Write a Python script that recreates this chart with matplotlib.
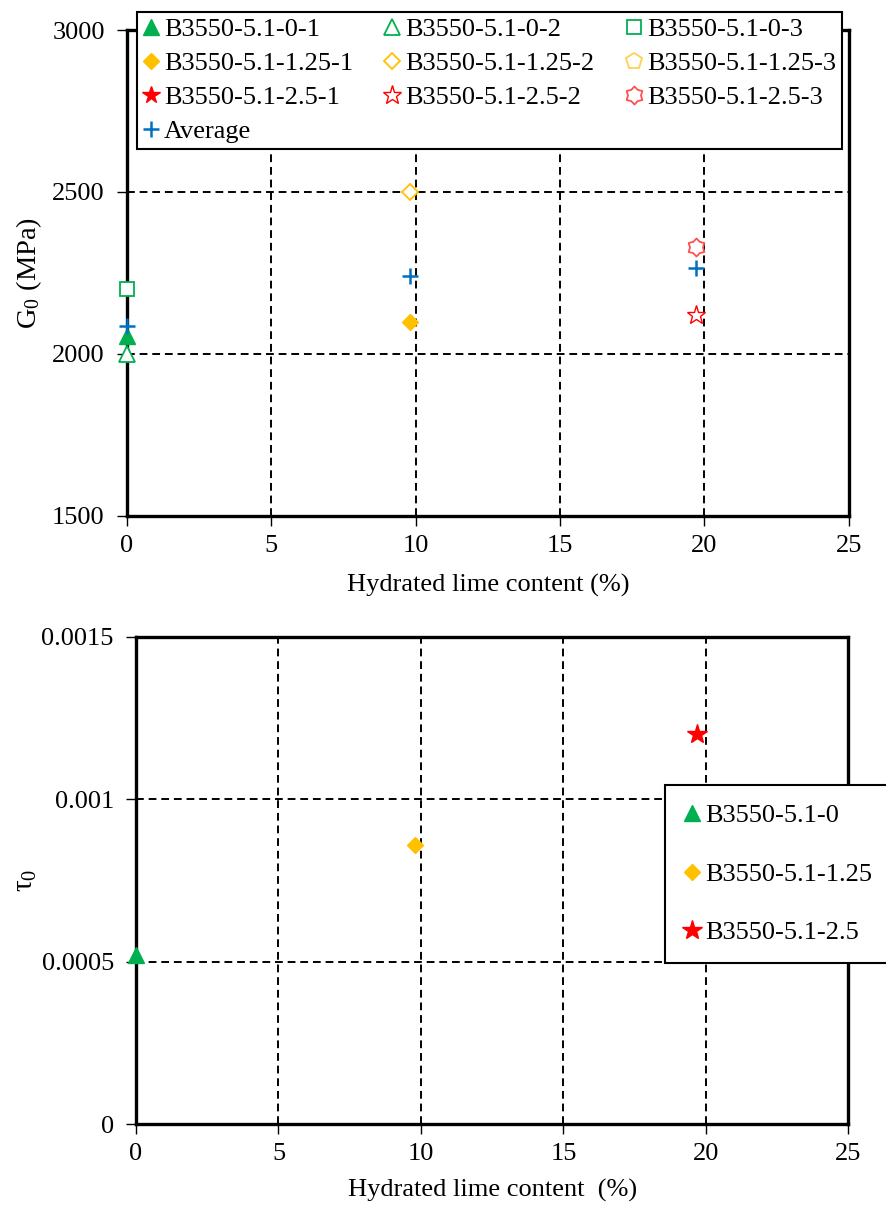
import numpy as np
import matplotlib
matplotlib.use('Agg')
import matplotlib.pyplot as plt
from matplotlib.path import Path

plt.rcParams['font.family'] = ['Liberation Serif', 'DejaVu Serif']
plt.rcParams['mathtext.fontset'] = 'stix'
plt.rcParams['mathtext.default'] = 'regular'

# data
lime = [0, 9.8, 19.7]
g0_0 = [2055, 2000, 2200]          # B3550-5.1-0-1/2/3
g0_125 = [2100, 2500, np.nan]      # B3550-5.1-1.25-1/2/3
g0_25 = [np.nan, 2120, 2330]       # B3550-5.1-2.5-1/2/3
g0_avg = [2085, 2240, 2265]
tau0 = [0.00052, 0.00086, 0.0012]

x_ticks = [0, 5, 10, 15, 20, 25]
g0_ticks = [1500, 2000, 2500, 3000]
tau_ticks = [0, 0.0005, 0.001, 0.0015]
tau_labels = ['0', '0.0005', '0.001', '0.0015']

green = '#00B050'
orange = '#FFC000'
red = '#FF0000'
blue = '#0070C0'
fs = 19

# shallow six-point "gear" star used for 2.5-3
ang = np.pi / 2 + np.arange(12) * np.pi / 6
rad = np.where(np.arange(12) % 2 == 0, 1.0, 0.72)
verts = np.column_stack([rad * np.cos(ang), rad * np.sin(ang)])
gear = Path(np.vstack([verts, verts[:1]]), closed=True)

fig = plt.figure(figsize=(8.86, 12.05), dpi=100)
ax1 = fig.add_axes([0.1433, 0.5718, 0.8147, 0.4033])
ax2 = fig.add_axes([0.1535, 0.0672, 0.8040, 0.4042])

def style(ax):
    for s in ax.spines.values():
        s.set_linewidth(2.4)
        s.set_color('black')
    ax.grid(True, color='black', linestyle=(0, (4, 2.5)), linewidth=1.4)
    ax.set_axisbelow(True)
    ax.tick_params(labelsize=fs, direction='out', length=7, width=1)
    ax.tick_params(axis='y', pad=9)
    ax.tick_params(axis='x', pad=7)
    ax.set_xlim(0, 25)
    ax.set_xticks(x_ticks)

# --- top: G0 ---
style(ax1)
ax1.set_ylim(1500, 3000)
ax1.set_yticks(g0_ticks)
kw = dict(linestyle='none', clip_on=False, zorder=5)
h = {}
h['0-1'], = ax1.plot([lime[0]], [g0_0[0]], marker='^', ms=11, color=green, label='B3550-5.1-0-1', **kw)
h['0-2'], = ax1.plot([lime[0]], [g0_0[1]], marker='^', ms=11, mfc='white', mec=green, mew=1.3, label='B3550-5.1-0-2', **kw)
h['0-3'], = ax1.plot([lime[0]], [g0_0[2]], marker='s', ms=10, mfc='white', mec=green, mew=1.3, label='B3550-5.1-0-3', **kw)
h['125-1'], = ax1.plot([lime[1]], [g0_125[0]], marker='D', ms=8, color=orange, label='B3550-5.1-1.25-1', **kw)
h['125-2'], = ax1.plot([lime[1]], [g0_125[1]], marker='D', ms=8, mfc='white', mec=orange, mew=1.3, label='B3550-5.1-1.25-2', **kw)
h['125-3'], = ax1.plot([lime[1]], [g0_125[2]], marker='p', ms=12, mfc='white', mec='#FFD050', mew=1.3, label='B3550-5.1-1.25-3', **kw)
h['25-1'], = ax1.plot([lime[2]], [g0_25[0]], marker='*', ms=13, color=red, label='B3550-5.1-2.5-1', **kw)
h['25-2'], = ax1.plot([lime[2]], [g0_25[1]], marker='*', ms=14, mfc='white', mec=red, mew=1.0, label='B3550-5.1-2.5-2', **kw)
h['25-3'], = ax1.plot([lime[2]], [g0_25[2]], marker=gear, ms=13, mfc='white', mec='#FF5050', mew=1.3, label='B3550-5.1-2.5-3', **kw)
h['avg'], = ax1.plot(lime, g0_avg, marker='+', ms=12, mew=1.8, color=blue, label='Average', **kw)

ax1.set_xlabel('Hydrated lime content (%)', fontsize=fs, labelpad=12)
ax1.set_ylabel('G$_0$ (MPa)', fontsize=fs + 1.5, labelpad=6)

# column-major order so rows read like the reference
order = ['0-1', '125-1', '25-1', 'avg', '0-2', '125-2', '25-2', '0-3', '125-3', '25-3']
leg1 = fig.legend([h[k] for k in order], [h[k].get_label() for k in order],
                  ncol=3, loc='upper left', mode='expand',
                  bbox_to_anchor=(137 / 886, 1 - 150 / 1205, 705 / 886, 138 / 1205),
                  bbox_transform=fig.transFigure, borderaxespad=0, fontsize=fs,
                  handlelength=0.6, handletextpad=0.2, labelspacing=0.4,
                  borderpad=0.22, columnspacing=1.0, fancybox=False,
                  framealpha=1, edgecolor='black')
leg1.get_frame().set_linewidth(1.5)

# --- bottom: tau0 ---
style(ax2)
ax2.set_ylim(0, 0.0015)
ax2.set_yticks(tau_ticks)
ax2.set_yticklabels(tau_labels)
b1, = ax2.plot([lime[0]], [tau0[0]], marker='^', ms=11, color=green, label='B3550-5.1-0', **kw)
b2, = ax2.plot([lime[1]], [tau0[1]], marker='D', ms=8, color=orange, label='B3550-5.1-1.25', **kw)
b3, = ax2.plot([lime[2]], [tau0[2]], marker='*', ms=15, color=red, label='B3550-5.1-2.5', **kw)
ax2.set_xlabel('Hydrated lime content  (%)', fontsize=fs, labelpad=10)
ax2.set_ylabel(r'$\tau_0$', fontsize=fs + 2, labelpad=2)

leg2 = fig.legend(handles=[b1, b2, b3], loc='upper left',
                  bbox_to_anchor=(665 / 886, 1 - 785 / 1205), bbox_transform=fig.transFigure,
                  borderaxespad=0, fontsize=fs, handlelength=0.6, handletextpad=0.2,
                  labelspacing=1.32, borderpad=0.72, fancybox=False,
                  framealpha=1, edgecolor='black')
leg2.get_frame().set_linewidth(1.5)

fig.savefig('out.png', dpi=100)
